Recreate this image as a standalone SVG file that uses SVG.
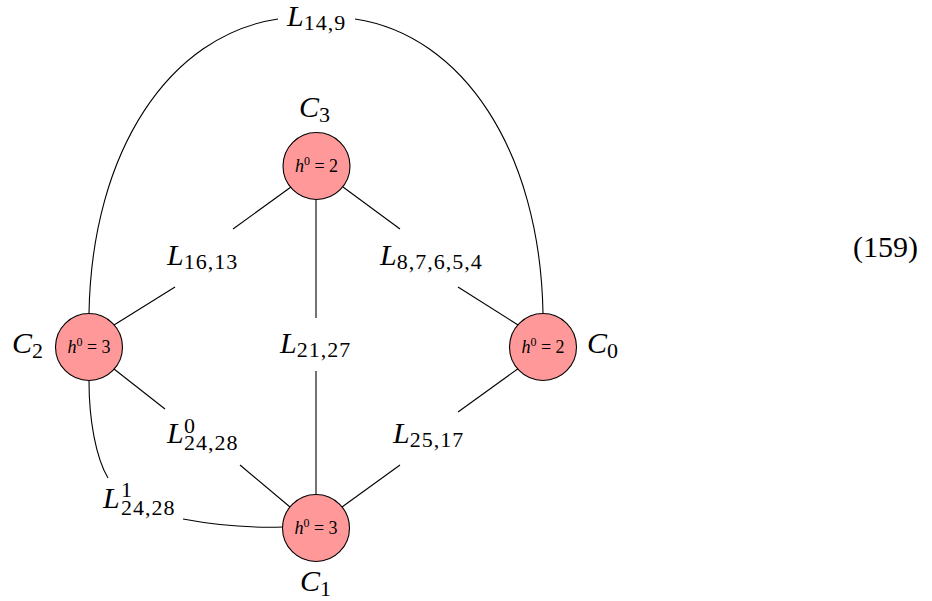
<svg xmlns="http://www.w3.org/2000/svg" width="932" height="601" viewBox="0 0 932 601">
<style>
.node{fill:#ff9999;stroke:#000;stroke-width:1.1}
.edge{fill:none;stroke:#000;stroke-width:1.1}
.t{font-family:"Liberation Serif","DejaVu Serif",serif;font-size:30px;fill:#000}
.i{font-style:italic}
.s{font-size:22px;letter-spacing:1px}
.n{font-family:"Liberation Serif","DejaVu Serif",serif;font-size:18px;fill:#000}
.ns{font-size:12px}
</style>
<rect width="932" height="601" fill="#fff"/>
<g id="connectors">
<path class="edge" d="M89,313 C92,150 170,35 278,19"/>
<path class="edge" d="M543,313 C540,150 462,35 355,19"/>
<line class="edge" x1="291" y1="187" x2="233" y2="229"/>
<line class="edge" x1="175" y1="287" x2="114" y2="325"/>
<line class="edge" x1="343" y1="187" x2="400" y2="229"/>
<line class="edge" x1="458" y1="287" x2="518" y2="325"/>
<line class="edge" x1="316" y1="200" x2="316" y2="318"/>
<line class="edge" x1="316" y1="371" x2="316" y2="494"/>
<line class="edge" x1="114" y1="369" x2="165" y2="409"/>
<line class="edge" x1="240" y1="465" x2="290" y2="507"/>
<line class="edge" x1="519" y1="368" x2="458" y2="412"/>
<line class="edge" x1="400" y1="465" x2="342" y2="507"/>
<path class="edge" d="M89,381 C89,420 96,458 108,478"/>
<path class="edge" d="M183,519 C220,526 250,528 283,527"/>
</g>
<g id="C3">
<circle class="node" cx="316.5" cy="166" r="33.5"/>
<text class="n" x="316.5" y="172" text-anchor="middle"><tspan class="i">h</tspan><tspan class="ns" dy="-7">0</tspan><tspan dy="7"> = 2</tspan></text>
<text class="t" x="299" y="117"><tspan class="i">C</tspan><tspan class="s" dy="5">3</tspan></text>
</g>
<g id="C2">
<circle class="node" cx="89" cy="347" r="33.5"/>
<text class="n" x="89" y="353" text-anchor="middle"><tspan class="i">h</tspan><tspan class="ns" dy="-7">0</tspan><tspan dy="7"> = 3</tspan></text>
<text class="t" x="12" y="353"><tspan class="i">C</tspan><tspan class="s" dy="5">2</tspan></text>
</g>
<g id="C0">
<circle class="node" cx="543" cy="347" r="33.5"/>
<text class="n" x="543" y="353" text-anchor="middle"><tspan class="i">h</tspan><tspan class="ns" dy="-7">0</tspan><tspan dy="7"> = 2</tspan></text>
<text class="t" x="587" y="353"><tspan class="i">C</tspan><tspan class="s" dy="5">0</tspan></text>
</g>
<g id="C1">
<circle class="node" cx="316" cy="528" r="33.5"/>
<text class="n" x="316" y="534" text-anchor="middle"><tspan class="i">h</tspan><tspan class="ns" dy="-7">0</tspan><tspan dy="7"> = 3</tspan></text>
<text class="t" x="300" y="591"><tspan class="i">C</tspan><tspan class="s" dy="5">1</tspan></text>
</g>
<g id="L14_9">
<text class="t" x="287" y="26"><tspan class="i">L</tspan><tspan class="s" dy="4">14,9</tspan></text>
</g>
<g id="L16_13">
<text class="t" x="167" y="265"><tspan class="i">L</tspan><tspan class="s" dy="4">16,13</tspan></text>
</g>
<g id="L8_7_6_5_4">
<text class="t" x="380" y="265"><tspan class="i">L</tspan><tspan class="s" dy="4">8,7,6,5,4</tspan></text>
</g>
<g id="L21_27">
<text class="t" x="280" y="353"><tspan class="i">L</tspan><tspan class="s" dy="4">21,27</tspan></text>
</g>
<g id="L0_24_28">
<text class="t" x="167" y="443"><tspan class="i">L</tspan><tspan class="s" x="184" y="433">0</tspan><tspan class="s" x="184" y="450">24,28</tspan></text>
</g>
<g id="L25_17">
<text class="t" x="393" y="443"><tspan class="i">L</tspan><tspan class="s" dy="4">25,17</tspan></text>
</g>
<g id="L1_24_28">
<text class="t" x="103" y="508"><tspan class="i">L</tspan><tspan class="s" x="121" y="497">1</tspan><tspan class="s" x="121" y="515">24,28</tspan></text>
</g>
<text class="t" x="853" y="257">(159)</text>
</svg>
